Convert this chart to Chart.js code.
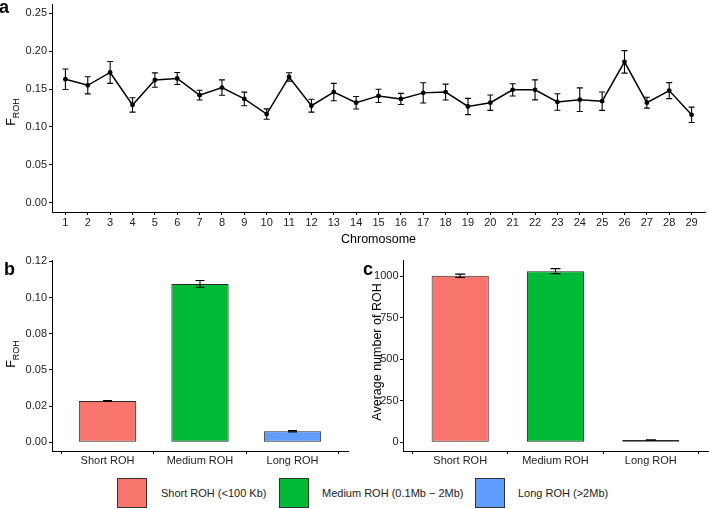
<!DOCTYPE html>
<html>
<head>
<meta charset="utf-8">
<script src="https://cdn.jsdelivr.net/npm/chart.js@4.4.0/dist/chart.umd.min.js"></script>
<style>
  html, body { margin: 0; padding: 0; background: #fff; }
  body { width: 709px; height: 509px; position: relative; overflow: hidden; font-family: "Liberation Sans", Arial, sans-serif; }
  canvas { position: absolute; }
  .key { position: absolute; top: 478px; width: 30px; height: 30px; box-sizing: border-box; border: 1px solid #333; }
  .label { position: absolute; top: 478px; height: 30px; line-height: 30px; font-size: 11px; color: #222; white-space: nowrap; }
</style>
</head>
<body>
<canvas id="chart-a" width="709" height="250" style="left:0;top:0"></canvas>
<canvas id="chart-b" width="355" height="222" style="left:0;top:250px"></canvas>
<canvas id="chart-c" width="354" height="222" style="left:355px;top:250px"></canvas>

<div class="key" style="left:117px;background:#F8766D"></div>
<div class="label" style="left:161px">Short ROH (&lt;100 Kb)</div>
<div class="key" style="left:279px;background:#00BA38"></div>
<div class="label" style="left:322px">Medium ROH (0.1Mb − 2Mb)</div>
<div class="key" style="left:475px;background:#619CFF"></div>
<div class="label" style="left:518px">Long ROH (&gt;2Mb)</div>

<script>
// Panel a: F_ROH per chromosome (mean and standard error)
const chromosomes = [1, 2, 3, 4, 5, 6, 7, 8, 9, 10, 11, 12, 13, 14, 15, 16, 17, 18, 19, 20, 21, 22, 23, 24, 25, 26, 27, 28, 29];
const frohByChrom = [0.163, 0.155, 0.172, 0.129, 0.162, 0.164, 0.142, 0.152, 0.137, 0.117, 0.166, 0.128, 0.146, 0.132, 0.141,
    0.137, 0.145, 0.146, 0.127, 0.132, 0.149, 0.149, 0.133, 0.136, 0.134, 0.186, 0.132, 0.148, 0.116];
const frohByChromSE = [0.0135, 0.0113, 0.0145, 0.0095, 0.0095, 0.008, 0.0065, 0.0102, 0.009, 0.0069, 0.0057, 0.0085, 0.0115, 0.0083, 0.0087,
    0.0073, 0.0133, 0.0105, 0.0107, 0.0102, 0.0081, 0.0132, 0.0109, 0.0156, 0.0121, 0.0149, 0.0072, 0.0106, 0.0101];
const chromYTicks = [0, 0.05, 0.1, 0.15, 0.2, 0.25];
const chromYTickLabels = ['0.00', '0.05', '0.10', '0.15', '0.20', '0.25'];

// Panels b and c: ROH length classes
const rohClasses = ['Short ROH', 'Medium ROH', 'Long ROH'];
const rohColors = ['#F8766D', '#00BA38', '#619CFF'];
const frohByClass = [0.0285, 0.1095, 0.0076];
const frohByClassSE = [0.0003, 0.0023, 0.0005];
const frohTicks = [0, 0.025, 0.05, 0.075, 0.1, 0.125];
const frohTickLabels = ['0.00', '0.02', '0.05', '0.08', '0.10', '0.12'];
const rohCount = [1003, 1031, 14];
const rohCountSE = [10, 15, 1];
const countTicks = [0, 250, 500, 750, 1000];

const FONT = '"Liberation Sans", Arial, sans-serif';
const tickFont = { family: FONT, size: 11 };
const tickColor = '#222';

// error bars drawn with the chart's own scales
function errorBars(values, errors, capWidth) {
    return {
        id: 'errorBars',
        afterDatasetsDraw(chart) {
            const ctx = chart.ctx;
            const yScale = chart.scales.y;
            const meta = chart.getDatasetMeta(0);
            ctx.save();
            ctx.strokeStyle = '#000';
            ctx.lineWidth = 1.1;
            meta.data.forEach((el, i) => {
                const top = yScale.getPixelForValue(values[i] + errors[i]);
                const bot = yScale.getPixelForValue(values[i] - errors[i]);
                const x = el.x, h = capWidth / 2;
                ctx.beginPath();
                ctx.moveTo(x, top); ctx.lineTo(x, bot);
                ctx.moveTo(x - h, top); ctx.lineTo(x + h, top);
                ctx.moveTo(x - h, bot); ctx.lineTo(x + h, bot);
                ctx.stroke();
            });
            ctx.restore();
        }
    };
}

// rotated F with ROH subscript
function rohTitle(xBase, yCenter) {
    return {
        id: 'rohTitle',
        afterDraw(chart) {
            const ctx = chart.ctx;
            ctx.save();
            ctx.translate(xBase, yCenter);
            ctx.rotate(-Math.PI / 2);
            ctx.fillStyle = '#000';
            ctx.textBaseline = 'alphabetic';
            ctx.font = '12.5px ' + FONT;
            const fW = ctx.measureText('F').width;
            ctx.font = '9px ' + FONT;
            const sW = ctx.measureText('ROH').width;
            const start = -(fW + sW) / 2;
            ctx.font = '12.5px ' + FONT;
            ctx.fillText('F', start, 0);
            ctx.font = '9px ' + FONT;
            ctx.fillText('ROH', start + fW, 3.5);
            ctx.restore();
        }
    };
}

// plain rotated axis title
function sideTitle(text, xBase, yCenter, size) {
    return {
        id: 'sideTitle',
        afterDraw(chart) {
            const ctx = chart.ctx;
            ctx.save();
            ctx.translate(xBase, yCenter);
            ctx.rotate(-Math.PI / 2);
            ctx.fillStyle = '#000';
            ctx.font = size + 'px ' + FONT;
            ctx.textAlign = 'center';
            ctx.textBaseline = 'alphabetic';
            ctx.fillText(text, 0, 0);
            ctx.restore();
        }
    };
}

function panelLabel(text, x, y) {
    return {
        id: 'panelLabel',
        afterDraw(chart) {
            const ctx = chart.ctx;
            ctx.save();
            ctx.fillStyle = '#000';
            ctx.font = 'bold 18px ' + FONT;
            ctx.textBaseline = 'alphabetic';
            ctx.fillText(text, x, y);
            ctx.restore();
        }
    };
}

const axisGrid = { drawOnChartArea: false, drawTicks: true, tickLength: 3, color: '#000', lineWidth: 1 };
const axisBorder = { display: true, color: '#000', width: 1 };

function fixY(width) {
    return s => { s.width = width; s.paddingTop = 0; s.paddingBottom = 0; };
}
function fixX(height) {
    return s => { s.height = height; s.paddingLeft = 0; s.paddingRight = 0; };
}

// Panel a
new Chart(document.getElementById('chart-a').getContext('2d'), {
    type: 'line',
    data: {
        datasets: [{
            data: chromosomes.map((c, i) => ({ x: c, y: frohByChrom[i] })),
            borderColor: '#000',
            borderWidth: 1.5,
            backgroundColor: '#000',
            pointRadius: 2.4,
            pointBorderWidth: 0,
            tension: 0
        }]
    },
    options: {
        responsive: false,
        animation: false,
        layout: { padding: { top: 0, right: 1, left: 0, bottom: 0 } },
        plugins: { legend: { display: false }, tooltip: { enabled: false } },
        scales: {
            x: {
                type: 'linear', min: 0.4, max: 29.6,
                afterBuildTicks: s => { s.ticks = chromosomes.map(v => ({ value: v })); },
                afterFit: fixX(38),
                ticks: { callback: v => String(v), font: tickFont, color: tickColor, padding: 1.5, maxRotation: 0, autoSkip: false },
                grid: axisGrid, border: axisBorder,
                title: { display: true, text: 'Chromosome', color: '#000', font: { family: FONT, size: 12.5 }, padding: { top: 0, bottom: 2.5 } }
            },
            y: {
                min: -0.0125, max: 0.2625,
                afterBuildTicks: s => { s.ticks = chromYTicks.map(v => ({ value: v })); },
                afterFit: fixY(52),
                ticks: { callback: (v, i) => chromYTickLabels[i], font: tickFont, color: tickColor, padding: 2 },
                grid: axisGrid, border: axisBorder
            }
        }
    },
    plugins: [errorBars(frohByChrom, frohByChromSE, 6), rohTitle(15.3, 112), panelLabel('a', -1, 13)]
});

// Panel b
new Chart(document.getElementById('chart-b').getContext('2d'), {
    type: 'bar',
    data: {
        datasets: [{
            data: rohClasses.map((c, i) => ({ x: i + 1, y: frohByClass[i] })),
            backgroundColor: rohColors,
            borderColor: '#2a2a2a',
            borderWidth: 1,
            borderSkipped: false,
            barPercentage: 0.62,
            categoryPercentage: 1
        }]
    },
    options: {
        responsive: false,
        animation: false,
        layout: { padding: { top: 10, right: 7, left: 0, bottom: 0 } },
        plugins: { legend: { display: false }, tooltip: { enabled: false } },
        scales: {
            x: {
                type: 'linear', min: 0.4, max: 3.6, offset: false,
                afterBuildTicks: s => { s.ticks = rohClasses.map((c, i) => ({ value: i + 1 })); },
                afterFit: fixX(21),
                ticks: { callback: (v, i) => rohClasses[i], font: tickFont, color: tickColor, padding: 0.5, maxRotation: 0, autoSkip: false },
                grid: axisGrid, border: axisBorder
            },
            y: {
                min: -0.006, max: 0.126,
                afterBuildTicks: s => { s.ticks = frohTicks.map(v => ({ value: v })); },
                afterFit: fixY(52),
                ticks: { callback: (v, i) => frohTickLabels[i], font: tickFont, color: tickColor, padding: 2 },
                grid: axisGrid, border: axisBorder
            }
        }
    },
    plugins: [errorBars(frohByClass, frohByClassSE, 9), rohTitle(15.3, 104), panelLabel('b', 4, 25)]
});

// Panel c
new Chart(document.getElementById('chart-c').getContext('2d'), {
    type: 'bar',
    data: {
        datasets: [{
            data: rohClasses.map((c, i) => ({ x: i + 1, y: rohCount[i] })),
            backgroundColor: rohColors,
            borderColor: '#2a2a2a',
            borderWidth: 1,
            borderSkipped: false,
            barPercentage: 0.6,
            categoryPercentage: 1
        }]
    },
    options: {
        responsive: false,
        animation: false,
        layout: { padding: { top: 10, right: 1, left: 0, bottom: 0 } },
        plugins: { legend: { display: false }, tooltip: { enabled: false } },
        scales: {
            x: {
                type: 'linear', min: 0.4, max: 3.6, offset: false,
                afterBuildTicks: s => { s.ticks = rohClasses.map((c, i) => ({ value: i + 1 })); },
                afterFit: fixX(21),
                ticks: { callback: (v, i) => rohClasses[i], font: tickFont, color: tickColor, padding: 0.5, maxRotation: 0, autoSkip: false },
                grid: axisGrid, border: axisBorder
            },
            y: {
                min: -52, max: 1098,
                afterBuildTicks: s => { s.ticks = countTicks.map(v => ({ value: v })); },
                afterFit: fixY(48),
                ticks: { callback: v => String(v), font: tickFont, color: tickColor, padding: 1.5 },
                grid: axisGrid, border: axisBorder
            }
        }
    },
    plugins: [errorBars(rohCount, rohCountSE, 10), sideTitle('Average number of ROH', 26, 102, 12.5), panelLabel('c', 8, 25)]
});
</script>
</body>
</html>
